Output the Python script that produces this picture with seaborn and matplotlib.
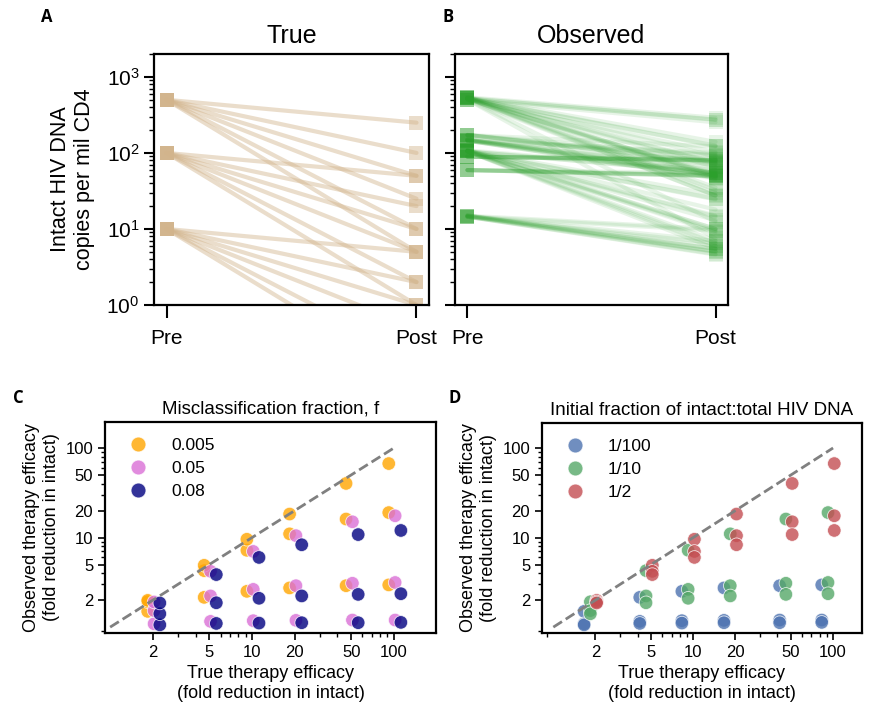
import numpy as np
import pandas as pd
import matplotlib
matplotlib.use("Agg")
import matplotlib.pyplot as plt
import seaborn as sns
from matplotlib.ticker import FixedLocator, FixedFormatter, LogLocator, NullFormatter

# ---- data ----
stages = ["Pre", "Post"]
fold_true = [2, 5, 10, 20, 50, 100]

# panel A: true intact reservoir before / after therapy
true_pre = [500, 100, 10]
true_post_500 = [250, 100, 50, 25, 10, 5]
true_post_100 = [50, 20, 10, 5, 2, 1]
true_post_10 = [5, 2, 1, 0.5, 0.2, 0.1]

# panel B: observed intact reservoir (one row per simulated person, columns = fold_true)
obs_pre = [502.5, 525, 540, 522.5, 105, 108, 104.5, 145, 172, 149.5, 14.5, 14.95, 59.5, 89.2]
obs_post = [
    [252.5, 102.5, 52.5, 27.5, 12.5, 7.5],
    [275, 125, 75, 50, 35, 30],
    [290, 140, 90, 65, 50, 45],
    [272.5, 122.5, 72.5, 47.5, 32.5, 27.5],
    [55, 25, 15, 10, 7, 6],
    [58, 28, 18, 13, 10, 9],
    [54.5, 24.5, 14.5, 9.5, 6.5, 5.5],
    [95, 65, 55, 50, 47, 46],
    [122, 92, 82, 77, 74, 73],
    [99.5, 69.5, 59.5, 54.5, 51.5, 50.5],
    [9.5, 6.5, 5.5, 5, 4.7, 4.6],
    [9.95, 6.95, 5.95, 5.45, 5.15, 5.05],
    [54.5, 51.5, 50.5, 50, 49.7, 49.6],
    [84.2, 81.2, 80.2, 79.7, 79.4, 79.3],
]

# panels C/D: observed fold reduction, rows follow misclass_labels, columns fold_true
misclass_labels = ["0.005", "0.05", "0.08"]
frac_labels = ["1/100", "1/10", "1/2"]
obs_fold_frac100 = [[1.50, 2.15, 2.51, 2.74, 2.90, 2.96],
                    [1.09, 1.16, 1.18, 1.19, 1.20, 1.20],
                    [1.06, 1.10, 1.11, 1.12, 1.12, 1.13]]
obs_fold_frac10 = [[1.92, 4.27, 7.21, 11.0, 16.1, 19.0],
                   [1.53, 2.23, 2.64, 2.90, 3.09, 3.15],
                   [1.41, 1.87, 2.10, 2.23, 2.32, 2.36]]
obs_fold_frac2 = [[1.99, 4.90, 9.57, 18.3, 40.2, 67.0],
                  [1.91, 4.20, 7.00, 10.5, 15.0, 17.5],
                  [1.86, 3.86, 6.00, 8.31, 10.8, 12.0]]

# ---- tables ----
rows = []
line = 0
for pre, posts in zip(true_pre, [true_post_500, true_post_100, true_post_10]):
    for post in posts:
        rows.append((line, 0, pre))
        rows.append((line, 1, post))
        line += 1
df_true = pd.DataFrame(rows, columns=["line", "stage", "copies"])

rows = []
line = 0
for pre, posts in zip(obs_pre, obs_post):
    for post in posts:
        rows.append((line, 0, pre))
        rows.append((line, 1, post))
        line += 1
df_obs = pd.DataFrame(rows, columns=["line", "stage", "copies"])

rows = []
for frac, table in zip(frac_labels, [obs_fold_frac100, obs_fold_frac10, obs_fold_frac2]):
    for f, vals in zip(misclass_labels, table):
        for e, v in zip(fold_true, vals):
            rows.append((e, f, frac, v))
df_fold = pd.DataFrame(rows, columns=["true", "f", "frac", "observed"])

# ---- style ----
sns.set_theme(style="ticks")
plt.rcParams["font.family"] = ["Liberation Sans", "DejaVu Sans"]
plt.rcParams["axes.linewidth"] = 1.6
for key in ["text.color", "axes.labelcolor", "xtick.color", "ytick.color", "axes.edgecolor"]:
    plt.rcParams[key] = "black"

fig = plt.figure(figsize=(8.7, 7.16), dpi=100)
W, H = 870, 716


def box(l, t, r, b):
    return [l / W, 1 - b / H, (r - l) / W, (b - t) / H]


axA = fig.add_axes(box(154, 54, 429, 305))
axB = fig.add_axes(box(455, 54, 728, 305), sharey=axA)
axC = fig.add_axes(box(105, 422, 436, 633))
axD = fig.add_axes(box(542, 423, 862, 633))

# panel A / B
sns.lineplot(data=df_true, x="stage", y="copies", units="line", estimator=None,
             color="tan", alpha=0.45, linewidth=3, marker="s", markersize=10,
             markeredgewidth=0, legend=False, ax=axA)
sns.lineplot(data=df_obs, x="stage", y="copies", units="line", estimator=None,
             color="#2ca02c", alpha=0.11, linewidth=3, marker="s", markersize=10,
             markeredgewidth=0, legend=False, ax=axB)

axA.set_yscale("log")
axA.set_ylim(1, 2000)
for ax, title in [(axA, "True"), (axB, "Observed")]:
    ax.set_xlim(-0.05, 1.05)
    ax.set_xticks([0, 1])
    ax.set_xticklabels(stages)
    ax.set_xlabel("")
    ax.set_ylabel("")
    ax.set_title(title, fontsize=18, pad=8)
    ax.tick_params(axis="both", which="major", labelsize=15, length=7, width=1.5)
    ax.tick_params(axis="x", length=9, pad=8)
    ax.tick_params(axis="y", which="minor", length=3.5, width=1)
axA.yaxis.set_major_locator(LogLocator(base=10, numticks=10))
axA.set_ylabel("Intact HIV DNA\ncopies per mil CD4", fontsize=15.5, labelpad=8)
axB.tick_params(axis="y", labelleft=False)

# panels C / D
c_palette = {"0.005": "orange", "0.05": "orchid", "0.08": "navy"}
d_palette = {"1/100": "#4c72b0", "1/10": "#55a868", "1/2": "#c44e52"}
c_dodge = {"0.005": 0.92, "0.05": 1.02, "0.08": 1.12}
d_dodge = {"1/100": 0.83, "1/10": 0.92, "1/2": 1.02}

dfC = df_fold.copy()
dfC["order"] = dfC["f"].map(misclass_labels.index)
dfC = dfC.sort_values("order", kind="stable")
dfC["x"] = dfC["true"] * dfC["f"].map(c_dodge)

dfD = df_fold.copy()
dfD["order"] = dfD["frac"].map(frac_labels.index)
dfD = dfD.sort_values("order", kind="stable")
dfD["x"] = dfD["true"] * dfD["frac"].map(d_dodge)

sns.scatterplot(data=dfC, x="x", y="observed", hue="f", hue_order=misclass_labels,
                palette=c_palette, alpha=0.8, s=95, edgecolor="white", linewidth=0.6, ax=axC)
sns.scatterplot(data=dfD, x="x", y="observed", hue="frac", hue_order=frac_labels,
                palette=d_palette, alpha=0.8, s=95, edgecolor="white", linewidth=0.6, ax=axD)

ticks = [2, 5, 10, 20, 50, 100]
for ax, title, xlim, ylim in [(axC, "Misclassification fraction, f", (0.92, 198), (0.86, 195)),
                              (axD, "Initial fraction of intact:total HIV DNA", (0.83, 161), (0.86, 190))]:
    ax.plot([1, 100], [1, 100], ls="--", color="gray", lw=2, zorder=5)
    ax.set_xscale("log")
    ax.set_yscale("log")
    ax.set_xlim(*xlim)
    ax.set_ylim(*ylim)
    for axis in (ax.xaxis, ax.yaxis):
        axis.set_major_locator(FixedLocator(ticks))
        axis.set_major_formatter(FixedFormatter([str(t) for t in ticks]))
        axis.set_minor_locator(LogLocator(base=10, subs=np.arange(2, 10), numticks=10))
        axis.set_minor_formatter(NullFormatter())
    ax.tick_params(axis="both", which="major", labelsize=12, length=5, width=1.2)
    ax.tick_params(axis="both", which="minor", length=3, width=1)
    ax.set_title(title, fontsize=13.5, pad=6)
    ax.set_xlabel("True therapy efficacy\n(fold reduction in intact)", fontsize=13)
    ax.set_ylabel("Observed therapy efficacy\n(fold reduction in intact)", fontsize=13)
    handles, labels = ax.get_legend_handles_labels()
    ax.legend(handles, labels, loc="upper left", frameon=False, fontsize=12.5,
              handletextpad=0.9, labelspacing=0.45, markerscale=1.1)

# panel letters
for letter, x, y in [("A", 47, 17), ("B", 448, 17), ("C", 18, 398), ("D", 455, 398)]:
    fig.text(x / W, 1 - y / H, letter, ha="center", va="center", fontsize=12,
             fontweight="bold", family=["Open Sans", "DejaVu Sans"])

fig.savefig("out.png", dpi=100)
